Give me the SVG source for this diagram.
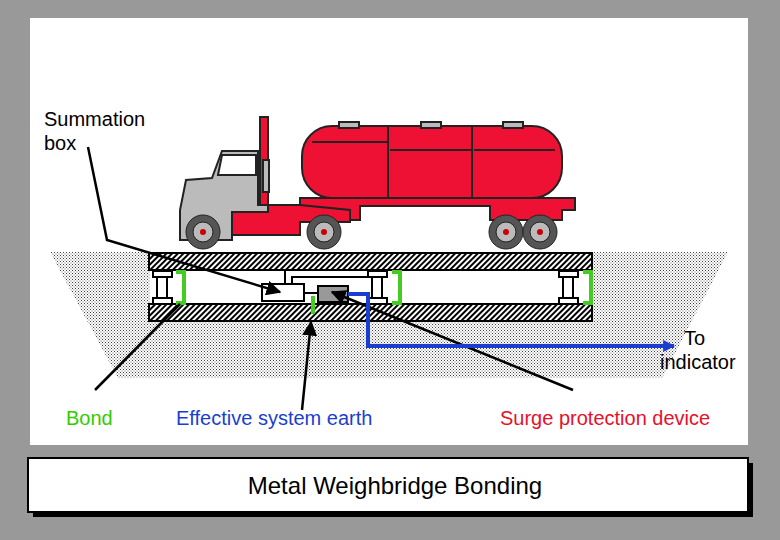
<svg xmlns="http://www.w3.org/2000/svg" width="780" height="540" viewBox="0 0 780 540">
<defs>
<pattern id="dots" width="3" height="3" patternUnits="userSpaceOnUse"><rect width="3" height="3" fill="#fff"/><rect width="1" height="1" fill="#444"/><rect x="1.5" y="1.5" width="1" height="1" fill="#666"/></pattern>
<pattern id="hatch" width="4" height="4" patternUnits="userSpaceOnUse" patternTransform="rotate(45)"><rect width="4" height="4" fill="#fff"/><rect width="2" height="4" fill="#000"/></pattern>
<marker id="ah" viewBox="0 0 10 10" refX="9" refY="5" markerWidth="6" markerHeight="6" orient="auto"><path d="M0,0L10,5L0,10z" fill="#000"/></marker>
<marker id="bh" viewBox="0 0 10 10" refX="9" refY="5" markerWidth="3" markerHeight="3" orient="auto"><path d="M0,0L10,5L0,10z" fill="#1a3fd0"/></marker>
<style>
.t{font-family:"Liberation Sans",Arial,sans-serif;font-size:20px}
.red{fill:#ee1133;stroke:#222;stroke-width:2}
.grey{fill:#bbb;stroke:#222;stroke-width:2}
.lead{stroke:#000;stroke-width:2.5;fill:none}
.gb{stroke:#44cc22;stroke-width:4;fill:none}
.cap{fill:#fff;stroke:#000;stroke-width:2}
</style>
</defs>
<rect width="780" height="540" fill="#999"/>
<rect x="30" y="18" width="718" height="427" fill="#fff"/>
<g id="ground"><polygon points="50,252 728,252 662,378 118,378" fill="url(#dots)"/></g>
<g id="bridge">
<rect x="150" y="270" width="442" height="34" fill="#fff"/>
<rect x="149" y="253" width="443" height="17" fill="url(#hatch)" stroke="#000" stroke-width="2"/>
<rect x="149" y="304" width="443" height="17" fill="url(#hatch)" stroke="#000" stroke-width="2"/>
<g id="cells">
<rect x="157" y="276" width="10" height="22" class="cap"/><rect x="153" y="271" width="19" height="6" class="cap"/><rect x="153" y="298" width="19" height="6" class="cap"/>
<rect x="372" y="276" width="10" height="22" class="cap"/><rect x="368" y="271" width="19" height="6" class="cap"/><rect x="368" y="298" width="19" height="6" class="cap"/>
<rect x="563" y="276" width="10" height="22" class="cap"/><rect x="559" y="271" width="19" height="6" class="cap"/><rect x="559" y="298" width="19" height="6" class="cap"/>
</g>
<path class="gb" d="M176,272H184V303H176M392,272H400V303H392M583,272H591V303H583M313,296V314"/>
<path d="M285,270V284M292,284V277H368M305,293H318" stroke="#000" stroke-width="2" fill="none"/>
</g>
<g id="summation"><rect x="262" y="284" width="42" height="17" fill="#fff" stroke="#000" stroke-width="2"/></g>
<g id="spd"><rect x="318" y="286" width="30" height="16" fill="#999" stroke="#000" stroke-width="2"/></g>
<g id="truck">
<rect x="260" y="117" width="8" height="90" class="red"/>
<path class="red" d="M300,198H575V210H562V220H490V206H360V220H300Z"/>
<path class="red" d="M268,205H300L350,210V222H300V235H230V210Z"/>
<rect x="302" y="126" width="260" height="72" rx="30" class="red"/>
<path d="M388,126V198M472,126V198M312,142H388M390,150H472M474,150H555" stroke="#222" stroke-width="2"/>
<rect x="339" y="122" width="20" height="6" class="grey"/><rect x="421" y="122" width="20" height="6" class="grey"/><rect x="503" y="122" width="20" height="6" class="grey"/>
<path class="grey" d="M222,151H258V205H268V212H232V240H180V210L186,180L212,178Z"/>
<path d="M222,155L218,175H256V155Z" fill="#fff" stroke="#222" stroke-width="2"/>
<rect x="263" y="160" width="6" height="32" class="grey"/>
<g fill="#555" stroke="#222" stroke-width="1">
<circle cx="203" cy="232" r="17"/><circle cx="324" cy="232" r="17"/><circle cx="506" cy="232" r="17"/><circle cx="540" cy="232" r="17"/>
</g>
<g fill="#bbb" stroke="#222" stroke-width="1">
<circle cx="203" cy="232" r="10"/><circle cx="324" cy="232" r="10"/><circle cx="506" cy="232" r="10"/><circle cx="540" cy="232" r="10"/>
</g>
<g fill="#c00"><circle cx="203" cy="232" r="3"/><circle cx="324" cy="232" r="3"/><circle cx="506" cy="232" r="3"/><circle cx="540" cy="232" r="3"/></g>
</g>
<g id="connectors">
<path class="lead" d="M88,147L107,240L280,292" marker-end="url(#ah)"/>
<path class="lead" d="M95,390L180,304"/>
<path class="lead" d="M302,410L311,322" marker-end="url(#ah)"/>
<path class="lead" d="M573,390L332,292" marker-end="url(#ah)"/>
<path d="M348,294H368V346H674" stroke="#1a3fd0" stroke-width="4" fill="none" marker-end="url(#bh)"/>
</g>
<g id="labels" class="t">
<text x="44" y="126">Summation</text><text x="44" y="150">box</text>
<text x="684" y="345">To</text><text x="660" y="369">indicator</text>
<text x="66" y="425" fill="#33cc00">Bond</text>
<text x="176" y="425" fill="#1a3fd0">Effective system earth</text>
<text x="500" y="425" fill="#e8102a">Surge protection device</text>
</g>
<g id="title">
<rect x="33" y="463" width="720" height="54" fill="#000"/>
<rect x="28" y="458" width="720" height="54" fill="#fff" stroke="#000" stroke-width="2"/>
<text x="395" y="494" text-anchor="middle" style="font-family:'Liberation Sans',Arial,sans-serif;font-size:24px">Metal Weighbridge Bonding</text>
</g>
</svg>
